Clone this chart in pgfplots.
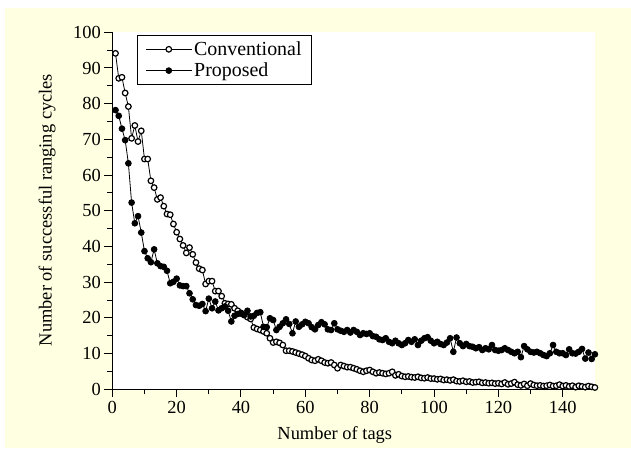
\documentclass[border=0pt]{standalone}
\usepackage{fontspec}
\setmainfont{Liberation Serif}
\usepackage{pgfplots}
\pgfplotsset{compat=1.18}
\definecolor{bgyellow}{HTML}{FFFFE1}

\pgfplotstableread{
x conv prop
1 94.1 78.2
2 87.1 76.6
3 87.4 73.0
4 83.0 69.8
5 79.2 63.3
6 70.3 52.3
7 73.9 46.5
8 69.4 48.5
9 72.4 43.9
10 64.5 38.7
11 64.5 36.7
12 58.4 35.6
13 56.5 39.2
14 53.2 35.3
15 53.7 34.5
16 51.3 34.3
17 49.1 33.2
18 48.9 29.7
19 46.3 30.1
20 44.0 31.0
21 42.1 29.1
22 40.3 28.9
23 38.2 28.9
24 39.7 26.9
25 37.8 25.2
26 35.5 23.6
27 33.8 23.4
28 33.4 23.9
29 29.5 21.9
30 30.3 25.4
31 30.3 22.7
32 27.5 24.6
33 27.5 22.1
34 26.1 22.7
35 24.1 23.2
36 23.9 22.0
37 23.8 19.0
38 22.7 20.6
39 22.0 21.1
40 21.4 21.2
41 20.8 20.8
42 20.2 22.0
43 19.7 20.4
44 17.3 20.6
45 16.9 21.4
46 16.6 21.6
47 16.2 17.5
48 15.7 17.4
49 14.3 19.9
50 13.1 19.4
51 13.3 16.6
52 13.0 17.5
53 12.4 18.5
54 10.8 19.6
55 10.8 18.3
56 10.6 15.7
57 10.3 19.0
58 10.0 17.5
59 9.7 18.2
60 9.3 18.9
61 8.7 18.5
62 8.2 17.4
63 8.0 16.8
64 8.4 18.0
65 8.0 18.8
66 7.5 18.2
67 7.3 16.8
68 7.5 16.6
69 6.8 18.5
70 5.9 16.8
71 6.8 16.4
72 6.5 16.1
73 6.2 16.6
74 6.2 15.9
75 5.9 16.6
76 5.6 16.1
77 5.2 15.2
78 4.9 15.7
79 5.2 15.5
80 5.4 15.7
81 4.9 14.9
82 4.5 14.7
83 4.7 14.0
84 4.5 13.8
85 4.3 14.3
86 4.5 13.3
87 4.9 12.9
88 3.9 13.6
89 4.2 12.9
90 3.7 12.4
91 3.5 12.9
92 3.6 13.8
93 3.4 13.3
94 3.3 14.0
95 3.5 12.4
96 3.2 13.6
97 3.1 14.3
98 3.3 14.6
99 3.0 13.6
100 3.0 12.9
101 2.8 13.3
102 2.9 12.7
103 2.6 12.4
104 2.7 13.1
105 2.5 14.3
106 2.7 10.5
107 2.3 14.5
108 2.2 12.9
109 2.4 12.1
110 2.1 12.7
111 2.2 12.1
112 1.9 11.9
113 2.0 11.5
114 2.1 11.8
115 1.8 11.0
116 1.9 11.5
117 1.7 11.2
118 1.8 12.4
119 1.6 11.0
120 1.7 10.8
121 1.5 11.0
122 1.9 11.5
123 1.4 11.0
124 1.6 10.5
125 2.0 10.1
126 1.3 10.5
127 1.1 9.0
128 1.5 12.1
129 1.0 11.2
130 1.6 10.5
131 1.2 10.3
132 1.0 10.5
133 1.1 10.1
134 0.9 9.6
135 1.0 9.3
136 1.2 10.1
137 0.9 12.4
138 1.0 10.5
139 1.3 10.1
140 0.9 10.1
141 1.1 9.6
142 0.8 11.2
143 1.0 10.1
144 0.6 10.0
145 1.0 10.5
146 0.8 11.3
147 0.6 8.6
148 0.9 10.3
149 0.7 8.5
150 0.5 9.8
}\datatable

\begin{document}
\begin{tikzpicture}
\fill[white] (0bp,0bp) rectangle (631bp,452bp);
\fill[bgyellow] (5bp,4bp) rectangle (631bp,444bp);
\begin{axis}[
    at={(112.3bp,62.7bp)}, anchor=south west,
    scale only axis, width=482.6bp, height=357bp,
    xmin=0, xmax=150, ymin=0, ymax=100,
    axis lines=left, axis line style={-, line width=1bp},
    axis background/.style={fill=white},
    clip=false,
    xtick={0,20,...,140}, ytick={0,10,...,100},
    minor x tick num=1, minor y tick num=1,
    tick align=outside,
    major tick length=8bp, minor tick length=5bp,
    every tick/.style={black, line width=1bp},
    /pgf/number format/assume math mode=true,
    tick label style={font=\fontsize{18.5}{21}\selectfont},
    xlabel={Number of tags},
    ylabel={Number of successful ranging cycles},
    label style={font=\fontsize{18.5}{21}\selectfont},
    xlabel style={at={(axis description cs:0.461,-0.128)}, anchor=center},
    ylabel style={at={(axis description cs:-0.135,0.502)}, anchor=center},
    legend style={at={(0.051,0.992)}, anchor=north west,
        font=\fontsize{20}{23}\selectfont, draw=black, line width=1bp,
        inner xsep=8bp, inner ysep=4bp, row sep=2bp, fill=white},
    legend cell align=left,
    legend image code/.code={%
        \draw[mark repeat=2, mark phase=2, #1]
        plot coordinates {(0bp,0bp) (23bp,0bp) (46bp,0bp)};},
]
\addplot[black, line width=0.8bp, mark=*, mark size=2.8bp,
    mark options={fill=white, line width=1.2bp}] table[x=x, y=conv] {\datatable};
\addlegendentry{Conventional}
\addplot[black, line width=0.8bp, mark=*, mark size=2.9bp,
    mark options={fill=black}] table[x=x, y=prop] {\datatable};
\addlegendentry{Proposed}
\end{axis}
\end{tikzpicture}
\end{document}
